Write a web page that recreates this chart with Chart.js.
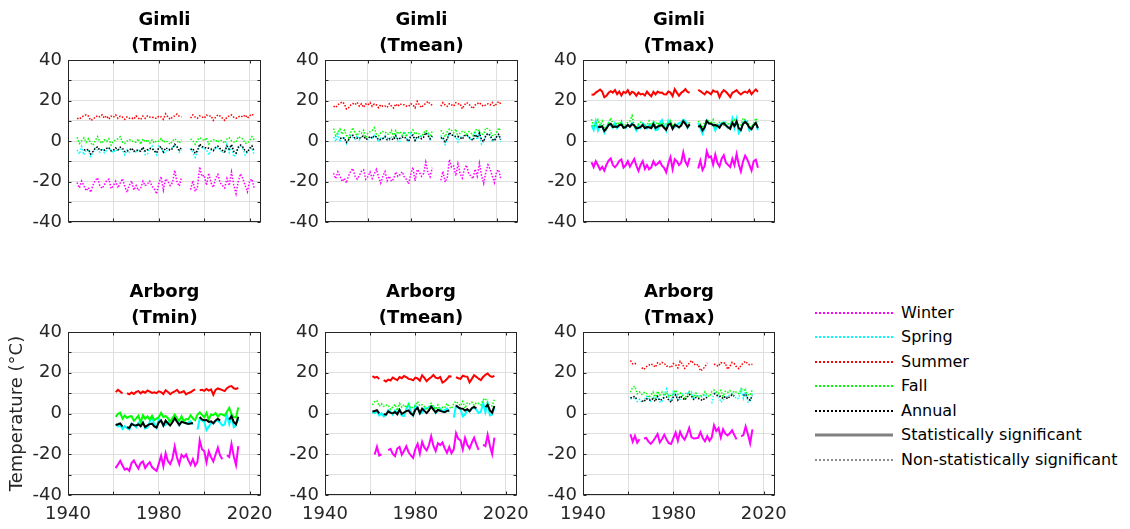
<!DOCTYPE html>
<html><head><meta charset="utf-8">
<script src="https://cdn.jsdelivr.net/npm/chart.js@4.4.1/dist/chart.umd.min.js"></script>
<style>
html,body{margin:0;padding:0;background:#fff;width:1130px;height:529px;overflow:hidden;position:relative;}
canvas{position:absolute;}
.item{position:absolute;height:20px;line-height:20px;white-space:nowrap;font-family:"DejaVu Sans",sans-serif;font-size:16px;color:#000;}
.item svg{position:absolute;left:0;top:0;}
.item span{position:absolute;left:86px;top:0;}
</style></head><body>
<div id="legend"></div>
<script>
// ---------- categories ----------
const gimliYears = [1944,1945,1946,1947,1948,1949,1950,1951,1952,1953,1954,1955,1956,1957,1958,1959,1960,1961,1962,1963,1964,1965,1966,1967,1968,1969,1970,1971,1972,1973,1974,1975,1976,1977,1978,1979,1980,1981,1982,1983,1984,1985,1986,1987,1988,1989,1990,1991,1992,1993,1994,1995,1996,1997,1998,1999,2000,2001,2002,2003,2004,2005,2006,2007,2008,2009,2010,2011,2012,2013,2014,2015,2016,2017,2018,2019,2020,2021,2022];
const arborgYears = [1961,1962,1963,1964,1965,1966,1967,1968,1969,1970,1971,1972,1973,1974,1975,1976,1977,1978,1979,1980,1981,1982,1983,1984,1985,1986,1987,1988,1989,1990,1991,1992,1993,1994,1995,1996,1997,1998,1999,2000,2001,2002,2003,2004,2005,2006,2007,2008,2009,2010,2011,2012,2013,2014,2015];
const seasons = ['Winter','Spring','Summer','Fall','Annual'];
const xTickLabels = [1940, 1980, 2020];
const yTickLabels = [-40, -20, 0, 20, 40];

// ---------- Gimli series ----------
const gimliTminWinter = [-20.5,-23.2,-19.8,-22.1,-24.6,-23.0,-25.3,-21.8,-19.5,-18.2,-22.0,-23.4,-21.7,-19.6,-18.8,-23.5,-22.2,-19.9,-23.1,-20.8,-18.6,-22.3,-25.4,-21.9,-19.7,-24.2,-22.0,-24.5,-23.3,-19.9,-22.1,-21.2,-19.8,-22.4,-23.6,-26.1,-21.0,-17.6,-24.3,-18.7,-19.9,-22.0,-20.6,-14.5,-20.2,-22.3,-17.8,null,null,null,-24.0,-19.6,-24.9,-22.8,-12.8,-17.5,-16.9,-21.8,-15.9,-20.7,-22.9,-18.4,-16.5,-20.6,-21.9,-23.2,-18.5,-22.0,-15.3,-21.7,-26.0,-19.8,-16.2,-18.6,-21.9,-25.1,-19.7,-18.8,-23.5];
const gimliTminSpring = [-4.4,-6.5,-2.7,-6.8,-4.5,-4.8,-7.6,-5.7,-3.5,-4.4,-5.5,-3.6,-5.8,-4.6,-3.4,-4.9,-5.7,-4.3,-4.8,-3.5,-4.7,-6.8,-4.4,-5.6,-3.7,-4.5,-5.9,-4.4,-4.8,-3.3,-6.7,-6.5,-3.6,-2.4,-4.7,-6.8,-2.5,-3.4,-5.8,-5.4,-4.3,-3.6,-3.2,-2.3,-2.6,-5.6,-4.2,null,null,null,-3.5,-5.7,-8.0,-5.6,-2.4,-3.3,-3.6,-4.4,-6.8,-4.5,-4.3,-3.4,-3.2,-4.4,-5.8,-5.4,-1.5,-5.7,-1.8,-7.8,-6.6,-3.4,-2.5,-3.5,-6.9,-5.5,-4.3,-3.4,-6.8];
const gimliTminSummer = [11.2,10.8,11.9,12.4,13.0,12.3,10.2,10.7,11.8,12.5,11.9,12.9,11.3,12.4,10.8,12.3,11.7,12.9,11.2,12.3,11.8,10.7,11.9,11.2,11.4,10.8,12.4,11.3,10.6,12.3,11.2,12.4,11.8,11.9,11.3,11.2,12.3,11.9,10.7,13.4,11.9,10.7,11.8,12.4,13.3,12.2,11.8,null,null,null,11.3,12.9,11.8,11.2,12.4,11.9,11.3,12.8,12.3,12.4,10.2,11.8,12.9,12.3,11.3,10.2,11.8,12.4,12.9,11.8,11.2,11.9,12.4,11.8,12.9,11.3,12.4,13.3,12.3];
const gimliTminFall = [1.8,-1.2,0.1,1.6,-0.6,1.1,-1.0,-2.1,0.2,2.2,-0.1,-1.1,0.6,-0.2,1.1,-2.0,-0.1,0.5,1.1,2.1,-0.6,-1.2,0.0,0.6,0.4,-0.6,-0.5,1.1,-1.6,1.0,-0.5,0.6,-1.1,0.5,-1.0,0.1,-0.1,1.2,-0.6,0.1,-0.5,-1.6,0.0,1.1,0.1,-1.0,0.6,null,null,null,1.1,0.0,-1.6,0.6,1.6,1.0,0.1,1.6,-1.5,0.0,0.6,0.5,-0.6,0.5,0.0,-1.1,1.0,1.6,0.1,-0.5,-0.6,2.1,1.6,1.0,-1.1,-1.1,0.1,2.1,0.6];
const gimliTminAnnual = [null,null,null,-4.3,-4.6,-4.1,-6.4,-5.2,-3.5,-2.9,-4.5,-4.3,-4.5,-3.6,-3.2,-4.9,-4.5,-3.4,-4.4,-3.1,-3.6,-5.2,-5.0,-4.5,-3.5,-5.1,-4.5,-4.6,-5.1,-3.1,-5.0,-4.3,-3.8,-3.6,-4.9,-5.9,-3.4,-2.8,-5.4,-3.4,-3.9,-4.6,-3.8,-1.6,-2.9,-4.6,-3.1,null,null,null,-4.4,-3.8,-6.1,-4.8,-1.5,-2.8,-2.9,-3.6,-3.5,-3.9,-4.8,-3.1,-2.6,-3.8,-4.6,-5.4,-2.5,-4.0,-1.8,-5.1,-6.0,-3.0,-2.0,-3.0,-4.8,-5.6,-3.6,-2.4,-5.0];

const gimliTmeanWinter = [-15.9,-18.6,-15.2,-17.5,-20.0,-18.4,-20.7,-17.2,-14.9,-13.6,-17.4,-18.8,-17.1,-15.0,-14.2,-18.9,-17.6,-15.3,-18.5,-16.2,-14.0,-17.7,-20.8,-17.3,-15.1,-19.6,-17.4,-19.9,-18.7,-15.3,-17.5,-16.6,-15.2,-17.8,-19.0,-21.2,-16.4,-13.0,-19.7,-14.1,-15.3,-17.4,-16.0,-10.4,-15.6,-17.7,-13.2,null,null,null,-19.4,-15.0,-20.3,-18.2,-9.2,-12.9,-12.3,-17.2,-11.3,-16.1,-18.3,-13.8,-11.9,-16.0,-17.3,-18.6,-13.9,-17.4,-11.0,-17.1,-20.9,-15.2,-11.8,-14.0,-17.3,-20.5,-15.1,-14.2,-18.9];
const gimliTmeanSpring = [1.9,-0.2,3.6,-0.5,1.8,1.5,-1.3,0.6,2.8,1.9,0.8,2.7,0.5,1.7,2.9,1.4,0.6,2.0,1.5,2.8,1.6,-0.5,1.9,0.7,2.6,1.8,0.4,1.9,1.5,3.0,-0.4,-0.2,2.7,3.9,1.6,-0.5,3.8,2.9,0.5,0.9,2.0,2.7,3.1,4.0,3.7,0.7,2.1,null,null,null,2.8,0.6,-1.7,0.7,3.9,3.0,2.7,1.9,-0.5,1.8,2.0,2.9,3.1,1.9,0.5,0.9,4.8,0.6,4.5,-1.5,-0.3,2.9,3.8,2.8,-0.6,0.8,2.0,2.9,-0.5];
const gimliTmeanSummer = [17.2,16.5,17.9,18.6,19.3,18.4,15.8,16.4,17.8,18.5,17.9,19.1,17.2,18.4,16.6,18.3,17.7,19.0,17.1,18.3,17.8,16.4,17.9,17.1,17.3,16.6,18.4,17.2,16.3,18.3,17.1,18.4,17.8,17.9,17.2,17.1,18.4,17.9,16.4,19.6,17.9,16.5,17.8,18.5,19.6,18.2,17.8,null,null,null,17.2,19.0,17.8,17.1,18.4,17.9,17.2,18.9,18.3,18.4,15.9,17.8,19.0,18.3,17.2,16.0,17.8,18.4,19.0,17.8,17.1,17.9,18.4,17.8,19.0,17.2,18.4,19.5,18.3];
const gimliTmeanFall = [6.2,2.6,4.1,5.9,3.3,5.3,2.8,1.5,4.2,6.6,3.9,2.7,4.7,3.8,5.3,1.6,3.9,4.6,5.3,6.5,3.3,2.6,4.0,4.7,4.5,3.3,3.4,5.3,2.1,5.2,3.4,4.7,2.7,4.6,2.8,4.1,3.9,5.4,3.3,4.1,3.4,2.1,4.0,5.3,4.1,2.8,4.7,null,null,null,5.3,4.0,2.1,4.7,5.9,5.2,4.1,5.9,2.2,4.0,4.7,4.6,3.3,4.6,4.0,2.7,5.2,5.9,4.1,3.4,3.3,6.5,5.9,5.2,2.7,2.7,4.1,6.5,4.7];
const gimliTmeanAnnual = [null,null,null,1.4,1.1,1.6,-0.7,0.5,2.2,2.8,1.2,1.4,1.2,2.1,2.5,0.8,1.2,2.3,1.3,2.6,2.1,0.5,0.7,1.2,2.2,0.6,1.2,1.1,0.6,2.6,0.7,1.4,1.9,2.1,0.8,-0.2,2.3,2.9,0.3,2.3,1.8,1.1,1.9,4.1,2.8,1.1,2.6,null,null,null,1.3,1.9,-0.4,0.9,4.2,2.9,2.8,2.1,2.2,1.8,0.9,2.6,3.1,1.9,1.1,0.3,3.2,1.7,3.9,0.6,-0.3,2.7,3.7,2.7,0.9,0.1,2.1,3.3,0.7];

const gimliTmaxWinter = [-10.5,-12.9,-10.0,-12.0,-14.1,-12.7,-14.6,-11.7,-9.7,-8.6,-11.9,-13.0,-11.6,-9.8,-9.1,-13.1,-12.0,-10.0,-12.7,-10.8,-8.9,-12.1,-14.8,-11.8,-9.9,-13.8,-11.9,-14.0,-13.0,-10.0,-12.0,-11.2,-10.0,-12.2,-13.2,-15.4,-11.0,-8.0,-13.9,-9.0,-10.0,-11.9,-10.7,-5.6,-10.3,-12.2,-8.3,null,null,null,-13.6,-9.7,-14.3,-12.4,-5.1,-8.1,-7.6,-11.7,-6.7,-10.8,-12.6,-8.7,-7.0,-10.7,-11.8,-12.9,-8.8,-11.9,-6.5,-11.6,-15.1,-10.1,-7.2,-9.1,-11.8,-14.6,-10.0,-9.2,-13.2];
const gimliTmaxSpring = [7.9,5.5,9.8,5.2,7.8,7.3,4.2,6.4,8.9,7.9,6.6,8.8,6.3,7.7,9.0,7.2,6.4,8.0,7.4,8.9,7.5,5.2,7.9,6.5,8.7,7.8,6.2,7.9,7.4,9.2,5.3,5.6,8.9,10.3,7.6,5.1,10.1,9.0,6.3,6.8,8.0,8.8,9.2,10.4,10.0,6.5,8.1,null,null,null,8.9,6.4,3.6,6.5,10.2,9.1,8.8,7.8,5.2,7.7,8.0,9.0,9.3,7.9,6.3,6.8,11.0,6.5,10.8,4.0,5.5,9.0,10.1,8.9,5.2,6.7,8.0,9.0,5.3];
const gimliTmaxSummer = [23.0,22.9,23.9,24.6,25.4,24.4,21.6,22.3,23.8,24.6,23.9,25.2,23.1,24.4,22.5,24.3,23.7,25.1,23.0,24.3,23.8,22.3,23.9,23.0,23.3,22.5,24.4,23.1,22.1,24.3,23.0,24.4,23.8,23.9,23.1,23.0,24.4,23.9,22.2,25.6,23.9,22.3,23.8,24.5,25.6,24.2,23.8,null,null,null,25.2,24.6,23.8,23.0,24.4,23.9,23.1,25.0,24.3,24.4,21.6,23.8,25.1,24.3,23.1,21.7,23.8,24.4,25.1,23.8,23.0,23.9,24.4,23.8,25.1,23.1,24.4,25.5,24.3];
const gimliTmaxFall = [10.8,6.9,8.6,10.6,7.7,9.9,7.2,5.8,8.8,11.4,8.4,7.1,9.3,8.2,9.9,5.9,8.4,9.2,9.9,12.5,7.7,6.9,8.5,9.3,9.0,7.7,7.8,9.9,6.4,9.8,7.8,9.3,7.1,9.2,7.2,8.6,8.4,10.1,7.7,8.6,7.8,6.4,8.5,9.9,8.6,7.2,9.3,null,null,null,9.9,8.5,6.4,9.3,10.6,9.8,8.6,10.6,6.5,8.5,9.3,9.2,7.7,9.2,8.5,7.1,9.8,10.6,8.6,7.8,7.7,11.2,10.6,9.8,7.1,7.1,8.6,11.2,9.3];
const gimliTmaxAnnual = [null,null,null,7.1,6.8,7.3,5.0,6.2,7.9,8.5,6.9,7.1,6.9,7.8,8.2,6.5,6.9,8.0,7.0,8.3,7.8,6.2,6.4,6.9,7.9,6.3,6.9,6.8,6.3,8.3,6.4,7.1,7.6,7.8,6.5,5.5,8.0,8.6,6.0,8.0,7.5,6.8,7.6,9.8,8.5,6.8,8.3,null,null,null,7.0,7.6,5.3,6.6,9.9,8.6,8.5,7.8,7.9,7.5,6.6,8.3,8.8,7.6,6.8,6.0,8.9,7.4,9.6,6.3,5.4,8.4,9.4,8.4,6.6,5.8,7.8,9.0,6.4];

// ---------- Arborg series ----------
const arborgTminWinter = [-26.8,-25.0,-23.2,-25.5,-27.6,-27.0,-28.1,-24.3,-23.1,-25.2,-27.0,-24.4,-23.5,-26.8,-25.1,-23.9,-26.3,-27.4,-28.2,-24.6,-20.8,-25.9,-19.5,-23.3,-24.8,-22.1,-16.2,-21.6,-24.9,-20.3,-21.5,-20.1,-23.0,-25.2,-22.4,-25.6,-23.8,-13.2,-17.5,-18.4,-23.9,-18.6,-21.4,-23.5,-20.1,-16.8,-20.7,-22.4,null,-20.5,-21.3,-14.9,-21.0,-25.3,-16.0];
const arborgTminSpring = [-5.2,-6.4,-5.7,-7.6,-6.2,-7.1,-7.8,-5.0,-5.6,-6.8,-4.6,-6.0,-4.2,-7.3,-6.9,-4.1,-1.8,-5.2,-7.0,-2.6,-3.8,-5.9,-5.6,-4.0,-3.9,-3.1,-2.3,-2.9,-5.7,-4.5,-3.7,-4.9,-4.4,-3.8,-5.3,null,-7.9,-2.6,-3.5,-4.1,-8.1,-6.6,-4.3,-4.9,-3.7,-3.4,-4.5,-5.9,-5.4,-0.6,-5.2,-0.8,-6.7,-5.8,-2.4];
const arborgTminSummer = [10.5,11.6,10.8,9.8,null,10.0,9.4,10.3,9.6,10.6,11.0,9.9,10.8,10.2,11.3,10.7,10.1,10.4,10.0,10.9,10.5,9.6,11.4,10.6,9.5,10.3,10.8,11.6,10.2,10.4,11.0,9.4,10.1,10.4,11.2,11.8,null,11.4,11.6,11.1,12.0,11.2,11.8,9.2,11.6,12.3,11.9,11.5,11.0,12.4,13.2,13.5,12.4,12.1,12.6];
const arborgTminFall = [-1.6,-0.2,0.4,-2.5,-1.0,-2.2,-1.5,-1.3,-3.6,-2.4,-1.1,-4.3,-0.8,-2.6,-1.4,-3.0,-1.1,-3.2,-2.5,-1.7,0.3,-1.8,-1.2,-2.3,-4.1,-2.2,-0.6,-2.5,-3.5,-1.4,-3.8,-2.7,-2.9,-0.8,-2.5,-3.3,-0.6,0.5,-0.7,-1.9,0.3,-3.0,-0.5,-0.8,0.2,-1.5,-0.3,-0.5,-1.1,0.9,2.8,-0.4,-1.7,-1.9,3.0];
const arborgTminAnnual = [-5.6,-5.3,-4.9,-6.4,null,-6.7,-7.1,-5.1,-5.7,-5.9,-5.4,-6.3,-4.5,-6.6,-5.8,-5.2,-5.0,-6.3,-6.9,-4.4,-3.4,-5.9,-3.5,-4.8,-5.9,-4.3,-2.3,-4.0,-5.6,-4.0,-4.5,-4.8,-5.1,-4.9,-4.7,null,null,-1.7,-2.9,-3.3,-3.2,-4.1,-3.8,-4.8,-3.4,-2.6,-3.5,null,-4.3,null,-3.0,-1.3,-4.2,-5.2,-1.6];

const arborgTmeanWinter = [null,-20.1,-16.3,-20.6,-20.0,null,null,-18.0,-17.4,-19.8,-20.9,-17.2,-16.4,-20.2,-18.3,-16.1,-19.0,-20.6,-21.8,-17.4,-14.9,-19.6,-13.9,-16.8,-18.1,-15.6,-11.2,-15.9,-18.4,-14.6,-15.5,-14.2,-17.1,-19.3,-16.4,-19.5,-17.6,-9.6,-12.4,-13.2,-17.6,-12.0,-15.4,-17.2,-14.3,-11.9,-15.1,-17.9,null,-15.3,-16.0,-10.4,-15.8,-19.9,-11.8];
const arborgTmeanSpring = [0.6,0.2,1.1,-0.9,0.1,-1.4,-0.8,1.6,0.9,-0.6,1.5,0.3,1.8,-1.0,-1.2,2.3,4.6,1.0,-1.1,3.9,2.6,-0.1,0.4,2.6,2.7,3.0,3.6,3.5,0.2,1.4,2.4,1.1,1.6,2.5,0.7,null,-2.0,3.7,3.0,2.1,-1.4,-0.5,1.9,1.2,2.5,3.1,1.8,0.3,0.8,5.4,0.6,5.0,-0.9,-0.5,3.4];
const arborgTmeanSummer = [18.3,17.6,18.0,16.9,null,16.4,15.7,16.6,16.2,17.6,17.0,16.4,17.9,17.3,18.4,17.9,17.0,16.8,16.3,17.6,17.2,16.1,18.7,17.5,15.9,17.0,17.8,18.9,17.6,17.2,17.9,15.2,15.8,16.9,18.3,18.0,null,17.9,17.3,17.0,18.6,18.2,18.1,15.3,17.0,18.8,18.0,17.1,16.4,17.9,19.0,19.6,18.4,18.0,18.5];
const arborgTmeanFall = [4.2,5.8,6.3,3.6,4.8,3.5,4.1,4.2,2.0,3.3,4.5,1.5,4.9,3.1,4.4,2.8,4.6,2.5,3.2,3.9,5.9,3.8,4.3,3.4,1.6,3.3,5.0,3.2,2.1,4.2,1.7,3.0,2.8,4.9,3.1,2.4,5.0,6.0,4.8,3.8,5.9,2.6,5.2,4.7,5.6,4.0,5.3,4.9,4.2,6.7,7.4,5.0,3.9,3.7,7.0];
const arborgTmeanAnnual = [1.0,1.2,1.6,0.1,null,-0.3,-0.6,1.0,0.3,0.1,0.7,-0.4,1.8,-0.2,0.5,1.2,1.5,0.0,-0.8,1.8,2.8,0.2,2.4,1.3,0.2,1.5,3.4,1.9,0.5,1.8,1.3,0.9,0.6,1.3,1.5,null,null,3.9,3.0,2.5,2.4,1.5,2.1,1.1,2.6,3.2,2.5,null,1.6,null,3.1,4.3,1.5,0.4,3.7];

const arborgTmaxWinter = [-10.2,-13.8,-11.0,-14.3,-12.6,null,-12.3,-12.0,-13.8,-14.9,-13.6,-11.9,-10.1,-14.2,-12.5,-10.4,-12.8,-14.6,-15.0,-12.1,-9.3,-13.4,-9.0,-11.5,-12.8,-10.3,-7.1,-11.6,-12.3,-12.1,-11.9,-9.2,-12.0,-13.6,-11.1,-13.4,-11.7,-5.8,-8.6,-7.1,-11.8,-7.7,-9.9,-10.8,-9.7,-8.2,-10.6,-12.7,null,-11.2,-10.6,-6.4,-10.2,-14.6,-7.8];
const arborgTmaxSpring = [7.4,7.1,8.0,5.9,7.0,5.5,6.2,8.5,7.9,6.1,8.3,7.2,8.7,5.8,5.7,9.4,12.1,7.8,5.6,10.9,9.6,6.7,7.1,9.5,9.8,9.9,10.4,10.6,7.0,8.2,9.3,8.0,8.4,9.4,7.5,null,5.0,10.6,9.8,9.0,5.5,6.3,8.7,8.0,9.4,9.9,8.6,7.1,7.5,11.8,7.4,11.5,5.6,6.2,10.2];
const arborgTmaxSummer = [26.0,24.3,24.6,23.7,null,22.5,21.6,22.9,23.6,24.4,23.8,22.7,24.9,24.2,25.1,24.6,23.2,23.3,22.5,24.5,23.9,22.4,25.6,24.2,22.1,23.4,24.6,26.0,24.5,23.6,24.1,20.9,21.7,23.0,24.8,null,null,24.3,23.6,23.2,25.0,24.7,24.8,21.7,23.1,25.1,24.4,22.8,22.0,23.6,24.9,25.6,24.3,23.8,24.2];
const arborgTmaxFall = [10.4,12.9,13.3,9.6,10.6,9.3,10.3,10.2,7.8,9.1,10.6,7.4,10.9,9.0,10.5,8.8,10.4,8.2,9.0,9.6,11.5,9.5,10.1,9.2,7.3,9.1,10.8,9.0,7.9,10.0,7.5,8.7,8.5,10.7,8.9,8.3,10.7,11.5,10.6,9.8,11.4,8.4,10.9,10.3,11.3,9.6,11.1,10.4,9.7,12.0,12.1,10.7,9.2,9.1,11.8];
const arborgTmaxAnnual = [7.6,8.1,8.4,6.6,null,6.2,5.8,7.3,6.8,6.5,7.2,5.9,8.3,6.4,7.0,7.9,8.1,6.5,5.5,8.2,9.2,6.6,8.6,7.8,6.6,7.8,9.4,8.5,6.9,7.9,7.4,6.9,6.4,7.6,7.8,null,null,9.9,9.0,8.5,8.5,7.3,8.3,7.2,8.4,9.1,8.5,null,7.4,null,8.9,9.6,7.2,6.5,8.8];

// ---------- statistical significance (1 = significant, drawn solid) ----------
const sigGimliTmin  = [0,0,0,0,0];
const sigGimliTmean = [0,0,0,0,0];
const sigGimliTmax  = [1,1,1,0,1];
const sigArborgTmin  = [1,1,1,1,1];
const sigArborgTmean = [1,1,1,0,1];
const sigArborgTmax  = [1,0,0,0,0];

// ---------- styling / layout ----------
const seasonColors = ['#ff00ff','#00ffff','#ff0000','#00ff00','#000000'];
const FONT = 'DejaVu Sans';
const AX_W = 66, PAD_R = 30, TITLE_H = 60, XAX_H = 34;

const panels = [
  {station:'Gimli',  variable:'Tmin',  years:gimliYears,  series:[gimliTminWinter,gimliTminSpring,gimliTminSummer,gimliTminFall,gimliTminAnnual], sig:sigGimliTmin,  L:68,  T:60,  W:193, H:162, xmax:2025, xlab:false, ytitle:false},
  {station:'Gimli',  variable:'Tmean', years:gimliYears,  series:[gimliTmeanWinter,gimliTmeanSpring,gimliTmeanSummer,gimliTmeanFall,gimliTmeanAnnual], sig:sigGimliTmean, L:325, T:60,  W:193, H:162, xmax:2030, xlab:false, ytitle:false},
  {station:'Gimli',  variable:'Tmax',  years:gimliYears,  series:[gimliTmaxWinter,gimliTmaxSpring,gimliTmaxSummer,gimliTmaxFall,gimliTmaxAnnual], sig:sigGimliTmax,  L:583, T:60,  W:192, H:162, xmax:2030, xlab:false, ytitle:false},
  {station:'Arborg', variable:'Tmin',  years:arborgYears, series:[arborgTminWinter,arborgTminSpring,arborgTminSummer,arborgTminFall,arborgTminAnnual], sig:sigArborgTmin, L:68,  T:332, W:193, H:163, xmax:2025, xlab:true, ytitle:true},
  {station:'Arborg', variable:'Tmean', years:arborgYears, series:[arborgTmeanWinter,arborgTmeanSpring,arborgTmeanSummer,arborgTmeanFall,arborgTmeanAnnual], sig:sigArborgTmean, L:325, T:332, W:192, H:163, xmax:2025, xlab:true, ytitle:false},
  {station:'Arborg', variable:'Tmax',  years:arborgYears, series:[arborgTmaxWinter,arborgTmaxSpring,arborgTmaxSummer,arborgTmaxFall,arborgTmaxAnnual], sig:sigArborgTmax, L:583, T:332, W:192, H:163, xmax:2025, xlab:true, ytitle:false}
];

const boxPlugin = {
  id: 'matlabBox',
  afterDraw(chart) {
    const {ctx, chartArea: a, scales: {x, y}} = chart;
    ctx.save();
    ctx.strokeStyle = '#262626';
    ctx.lineWidth = 1;
    const l = Math.round(a.left) + 0.5, r = Math.round(a.right) - 0.5;
    const t = Math.round(a.top) + 0.5, b = Math.round(a.bottom) - 0.5;
    ctx.strokeRect(l, t, r - l, b - t);
    ctx.beginPath();
    x.ticks.forEach(tk => {
      const px = Math.round(x.getPixelForValue(tk.value)) + 0.5;
      ctx.moveTo(px, b); ctx.lineTo(px, b - 3);
      ctx.moveTo(px, t); ctx.lineTo(px, t + 3);
    });
    y.ticks.forEach(tk => {
      const py = Math.round(y.getPixelForValue(tk.value)) + 0.5;
      ctx.moveTo(l, py); ctx.lineTo(l + 3, py);
      ctx.moveTo(r, py); ctx.lineTo(r - 3, py);
    });
    ctx.stroke();
    ctx.restore();
  }
};

panels.forEach(p => {
  const cv = document.createElement('canvas');
  const cw = AX_W + p.W + PAD_R, ch = TITLE_H + p.H + XAX_H;
  cv.width = cw; cv.height = ch;
  cv.style.left = (p.L - AX_W) + 'px';
  cv.style.top = (p.T - TITLE_H) + 'px';
  cv.style.width = cw + 'px'; cv.style.height = ch + 'px';
  document.body.appendChild(cv);

  const datasets = p.series.map((vals, i) => ({
    label: seasons[i],
    data: p.years.map((yr, k) => ({x: yr, y: vals[k]})),
    borderColor: seasonColors[i],
    backgroundColor: seasonColors[i],
    borderWidth: p.sig[i] ? 2 : 1.5,
    borderDash: p.sig[i] ? [] : [1.5, 1.6],
    pointRadius: 0,
    tension: 0,
    spanGaps: false,
    fill: false,
    order: 5 - i
  }));

  new Chart(cv, {
    type: 'line',
    data: {datasets},
    options: {
      responsive: false,
      animation: false,
      devicePixelRatio: 1,
      events: [],
      layout: {padding: {left: 0, right: PAD_R, top: 0, bottom: 0}},
      plugins: {
        legend: {display: false},
        tooltip: {enabled: false},
        title: {
          display: true,
          text: [p.station, '(' + p.variable + ')'],
          fullSize: false,
          color: '#000',
          font: {family: FONT, size: 18, weight: 'bold', lineHeight: '26.5px'},
          padding: {top: 6.75, bottom: 0.25}
        }
      },
      scales: {
        x: {
          type: 'linear', min: 1940, max: p.xmax,
          border: {display: false},
          grid: {color: '#dfdfdf', lineWidth: 1, drawTicks: false},
          ticks: {
            display: p.xlab, stepSize: 20, includeBounds: false, autoSkip: false,
            maxRotation: 0, padding: 9, color: '#262626',
            font: {family: FONT, size: 18},
            callback: v => xTickLabels.includes(v) ? String(v) : ''
          },
          afterFit: s => { s.height = XAX_H; }
        },
        y: {
          type: 'linear', min: -40, max: 40,
          border: {display: false},
          grid: {color: '#dfdfdf', lineWidth: 1, drawTicks: false},
          ticks: {
            stepSize: 10, padding: 6, color: '#262626', autoSkip: false,
            font: {family: FONT, size: 18},
            callback: v => yTickLabels.includes(v) ? String(v) : ''
          },
          title: {
            display: p.ytitle, text: 'Temperature (°C)', color: '#262626',
            font: {family: FONT, size: 18}, padding: {top: 5, bottom: 0}
          },
          afterFit: s => { s.width = AX_W; }
        }
      }
    },
    plugins: [boxPlugin]
  });
});

// ---------- legend ----------
const legendItems = [
  {text: 'Winter', color: seasonColors[0], dash: '2,2', w: 2},
  {text: 'Spring', color: seasonColors[1], dash: '2,2', w: 2},
  {text: 'Summer', color: seasonColors[2], dash: '2,2', w: 2},
  {text: 'Fall',   color: seasonColors[3], dash: '2,2', w: 2},
  {text: 'Annual', color: seasonColors[4], dash: '2,2', w: 2},
  {text: 'Statistically significant', color: '#808080', dash: '', w: 3},
  {text: 'Non-statistically significant', color: '#8c8c8c', dash: '2,2', w: 2}
];
const lg = document.getElementById('legend');
legendItems.forEach((it, i) => {
  const d = document.createElement('div');
  d.className = 'item';
  d.style.left = '815px';
  d.style.top = (302.7 + i * 24.5) + 'px';
  d.innerHTML = '<svg width="80" height="20"><line x1="0" y1="10" x2="78" y2="10" stroke="' + it.color +
    '" stroke-width="' + it.w + '"' + (it.dash ? ' stroke-dasharray="' + it.dash + '"' : '') + '/></svg><span>' + it.text + '</span>';
  lg.appendChild(d);
});
</script>
</body></html>
